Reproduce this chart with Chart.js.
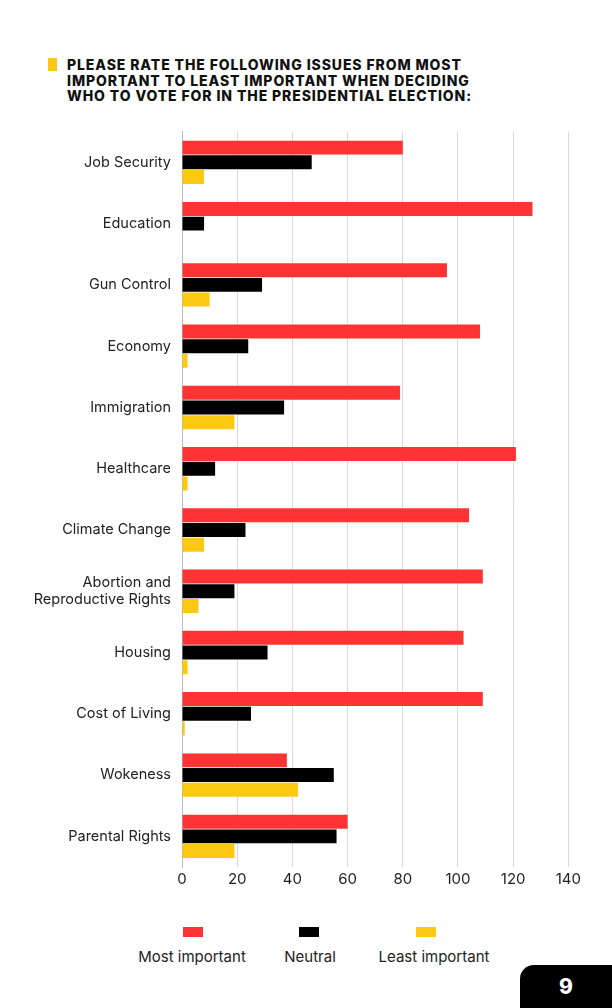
<!DOCTYPE html>
<html><head><meta charset="utf-8">
<script src="https://cdn.jsdelivr.net/npm/chart.js@4"></script>
<style>
body{margin:0;width:612px;height:1008px;background:#fff;position:relative;overflow:hidden;font-family:Inter,"Noto Sans",sans-serif;}
#title{position:absolute;left:67px;top:57px;font-weight:800;font-size:14px;line-height:15.5px;color:#111;letter-spacing:0.9px}
#mark{position:absolute;left:48px;top:58px;width:9px;height:13px;background:#fcc812}
#wrap{position:absolute;left:0;top:120px;width:584px;height:773px}
.lb{position:absolute;top:927px;width:20px;height:10px}
.lt{position:absolute;top:947px;font-size:15px;color:#222;transform:translateX(-50%);white-space:nowrap}
#tab{position:absolute;left:520px;top:965px;width:100px;height:50px;background:#000;border-top-left-radius:14px;color:#fff;font-weight:800;font-size:21px;text-align:center;line-height:43px;padding-right:8px;box-sizing:border-box}
</style></head><body>
<div id="mark"></div>
<div id="title">PLEASE RATE THE FOLLOWING ISSUES FROM MOST<br>IMPORTANT TO LEAST IMPORTANT WHEN DECIDING<br>WHO TO VOTE FOR IN THE PRESIDENTIAL ELECTION:</div>
<div id="wrap"><canvas id="c"></canvas></div>
<div class="lb" style="left:183px;background:#fe3333"></div>
<div class="lb" style="left:299px;background:#000"></div>
<div class="lb" style="left:416px;background:#fcc812"></div>
<div class="lt" style="left:192px">Most important</div>
<div class="lt" style="left:310px">Neutral</div>
<div class="lt" style="left:434px">Least important</div>
<div id="tab">9</div>
<script>
const categories=["Job Security","Education","Gun Control","Economy","Immigration","Healthcare","Climate Change",["Abortion and","Reproductive Rights"],"Housing","Cost of Living","Wokeness","Parental Rights"];
const mostImportant=[80,127,96,108,79,121,104,109,102,109,38,60];
const neutral=[47,8,29,24,37,12,23,19,31,25,55,56];
const leastImportant=[8,0,10,2,19,2,8,6,2,1,42,19];
const xTicks=[0,20,40,60,80,100,120,140];
new Chart(document.getElementById('c'),{
type:'bar',
data:{labels:categories,datasets:[
{label:'Most important',data:mostImportant,backgroundColor:'#fe3333'},
{label:'Neutral',data:neutral,backgroundColor:'#000'},
{label:'Least important',data:leastImportant,backgroundColor:'#fcc812'}]},
options:{indexAxis:'y',responsive:true,maintainAspectRatio:false,animation:false,
datasets:{bar:{categoryPercentage:0.72,barPercentage:0.95}},
layout:{padding:{top:7,left:0,right:0,bottom:0}},
plugins:{legend:{display:false},tooltip:{enabled:false}},
scales:{
x:{min:0,max:140,afterFit:s=>{s.height=26},afterBuildTicks:s=>{s.ticks=xTicks.map(v=>({value:v}))},
 grid:{color:'#d9d9d9',drawTicks:false},border:{display:false},
 ticks:{color:'#222',font:{size:15,family:'Inter'},padding:3}},
y:{afterFit:s=>{s.width=182},grid:{display:false},border:{color:'#bbb'},
 ticks:{color:'#222',font:{size:14.5,family:'Inter'},padding:3}}
}}});
</script></body></html>
